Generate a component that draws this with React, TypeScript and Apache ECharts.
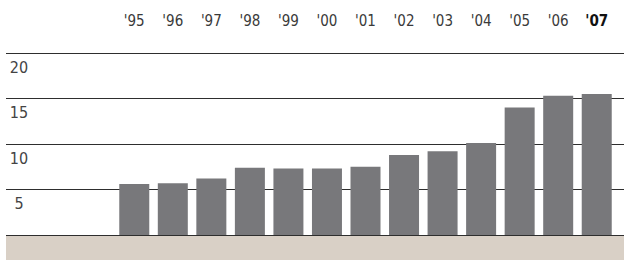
import React, { useEffect, useRef } from "react";
import * as echarts from "echarts";

const years = ["'95", "'96", "'97", "'98", "'99", "'00", "'01", "'02", "'03", "'04", "'05", "'06", "'07"];
const values = [5.6, 5.7, 6.2, 7.4, 7.3, 7.3, 7.5, 8.8, 9.2, 10.1, 14.0, 15.3, 15.5];
const yTicks = [0, 5, 10, 15, 20];

const FONT = "'Liberation Sans Narrow', 'DejaVu Sans Condensed', 'Roboto', sans-serif";

export default function App() {
  const ref = useRef<HTMLDivElement>(null);
  useEffect(() => {
    if (!ref.current) return;
    const chart = echarts.init(ref.current, undefined, { renderer: "svg" });
    const yMin = yTicks[0];
    const yMax = yTicks[yTicks.length - 1];
    const step = yTicks[1] - yTicks[0];
    chart.setOption({
      animation: false,
      backgroundColor: "#ffffff",
      graphic: [
        {
          type: "rect",
          left: 6,
          bottom: 0,
          z: -10,
          shape: { width: 618, height: 24 },
          style: { fill: "#d9d0c6" },
        },
      ],
      grid: [
        { left: 6, right: 0, top: 53, bottom: 25 },
        { left: 115, right: 8, top: 53, bottom: 25 },
      ],
      xAxis: [
        { type: "value", gridIndex: 0, show: false, min: 0, max: 1 },
        {
          type: "category",
          gridIndex: 1,
          position: "top",
          data: years,
          axisLine: { show: false },
          axisTick: { show: false },
          axisLabel: {
            interval: 0,
            margin: 25,
            fontFamily: FONT,
            fontSize: 15,
            color: "#3a3a3a",
            formatter: (v: string, i: number) => (i === years.length - 1 ? `{b|${v}}` : v),
            rich: {
              b: { fontFamily: FONT, fontSize: 15, fontWeight: "bold", color: "#111" },
            },
          },
        },
      ],
      yAxis: [
        {
          type: "value",
          gridIndex: 0,
          min: yMin,
          max: yMax,
          interval: step,
          axisLine: { show: false },
          axisTick: { show: false },
          splitLine: { show: true, lineStyle: { color: "#2e2e2e", width: 1 } },
          axisLabel: {
            inside: true,
            margin: 13,
            align: "center",
            verticalAlign: "top",
            padding: [6, 0, 0, 0],
            fontFamily: FONT,
            fontSize: 16,
            lineHeight: 16,
            color: "#444444",
            formatter: (v: number) => (v === 0 ? "" : String(v)),
          },
        },
        {
          type: "value",
          gridIndex: 1,
          min: yMin,
          max: yMax,
          interval: step,
          show: false,
          splitLine: { show: false },
        },
      ],
      series: [
        {
          type: "bar",
          xAxisIndex: 1,
          yAxisIndex: 1,
          data: values,
          barWidth: 30,
          itemStyle: { color: "#78787b" },
          z: 5,
        },
      ],
    });
    return () => chart.dispose();
  }, []);
  return (
    <div
      ref={ref}
      style={{ position: "fixed", left: 0, top: 0, width: 624, height: 260 }}
    />
  );
}
